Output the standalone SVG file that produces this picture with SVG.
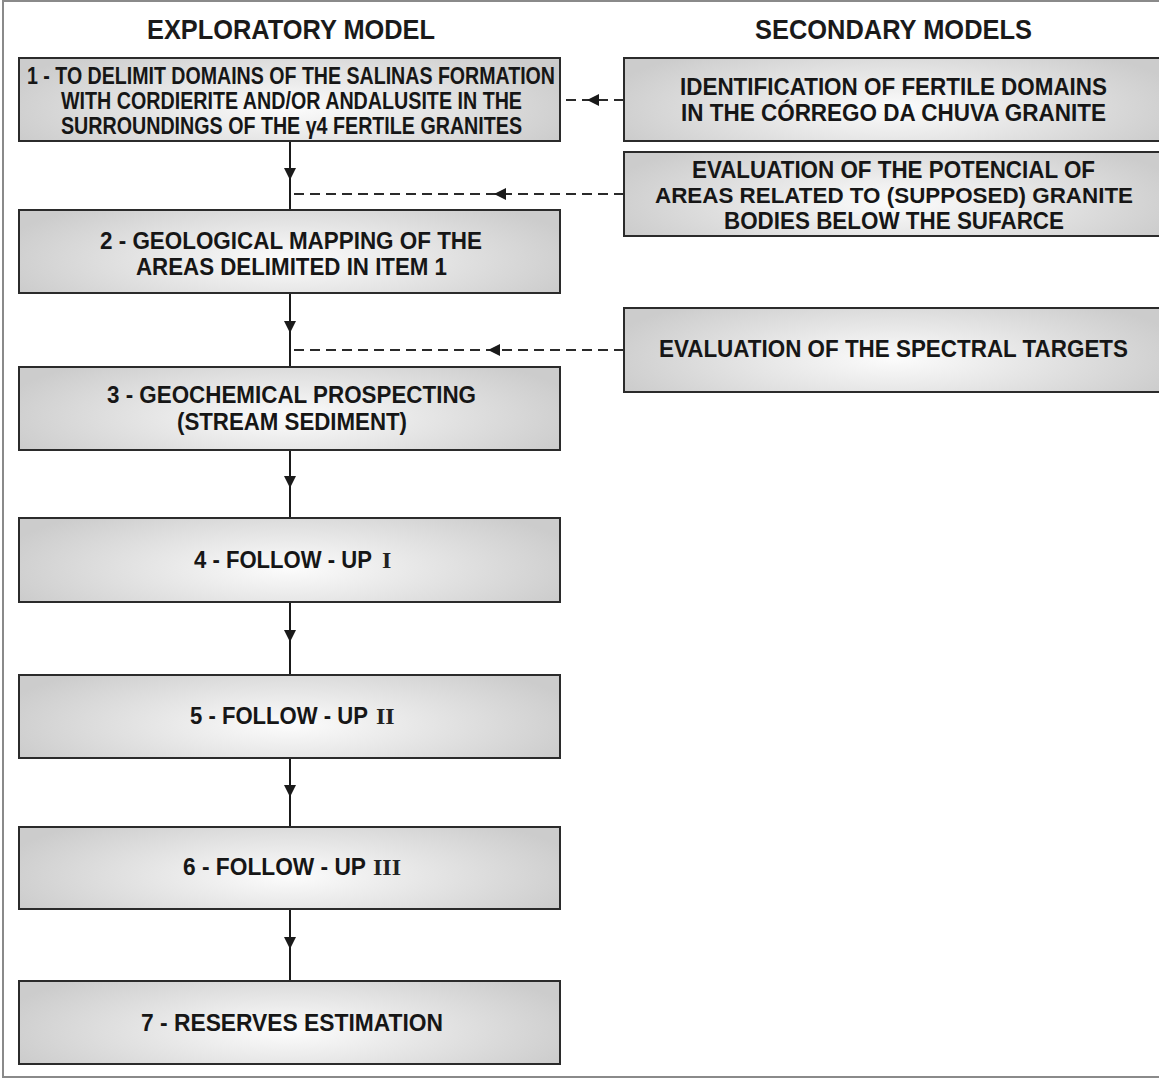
<svg xmlns="http://www.w3.org/2000/svg" width="1159" height="1080" viewBox="0 0 1159 1080">
<style>
.box{stroke:#2b2b2b;stroke-width:2}
.t{font-family:"Liberation Sans",Arial,sans-serif;font-weight:bold;font-size:24px;fill:#161616;text-anchor:middle}
.ts{font-family:"Liberation Sans",Arial,sans-serif;font-weight:bold;font-size:24px;fill:#161616}
.r{font-family:"Liberation Serif","Times New Roman",serif;font-weight:bold;font-size:24px;fill:#222222}
.h{font-family:"Liberation Sans",Arial,sans-serif;font-weight:bold;font-size:28px;fill:#1a1a1a;text-anchor:middle}
.solid{fill:none;stroke:#1a1a1a;stroke-width:2;marker-mid:url(#ah)}
.dash{fill:none;stroke:#2a2a2a;stroke-width:2;stroke-dasharray:10 6;marker-mid:url(#ah)}
</style>
<defs>
<radialGradient id="g" cx="0.5" cy="0.6" r="0.55" gradientTransform="translate(0.5 0.6) scale(1 1.6) translate(-0.5 -0.6)">
<stop offset="0" stop-color="#fcfcfc"/>
<stop offset="1" stop-color="#cccccc"/>
</radialGradient>
<marker id="ah" markerUnits="userSpaceOnUse" markerWidth="14" markerHeight="12" refX="12" refY="6" orient="auto" overflow="visible">
<path d="M0,0 L12,6 L0,12 Z" fill="#1a1a1a"/>
</marker>
</defs>
<rect x="3" y="1" width="1170" height="1076" fill="#ffffff" stroke="#8a8a8a" stroke-width="2"/>
<text class="h" x="291" y="39" textLength="288" lengthAdjust="spacingAndGlyphs">EXPLORATORY MODEL</text>
<text class="h" x="893.5" y="39" textLength="277" lengthAdjust="spacingAndGlyphs">SECONDARY MODELS</text>
<g id="connectors">
<polyline class="solid" points="290,141 290,180 290,210"/>
<polyline class="solid" points="290,293 290,333 290,367"/>
<polyline class="solid" points="290,450 290,488 290,518"/>
<polyline class="solid" points="290,602 290,642 290,675"/>
<polyline class="solid" points="290,758 290,797 290,827"/>
<polyline class="solid" points="290,909 290,949 290,981"/>
<polyline class="dash" points="624,100 587,100 561,100"/>
<polyline class="dash" points="624,194 494,194 292,194"/>
<polyline class="dash" points="624,350 488,350 292,350"/>
</g>
<g id="n1">
<rect class="box" x="19" y="58" width="541" height="83" fill="url(#g)"/>
<text class="t" x="291" y="84" textLength="528" lengthAdjust="spacingAndGlyphs">1 - TO DELIMIT DOMAINS OF THE SALINAS FORMATION</text>
<text class="t" x="291.5" y="109" textLength="461" lengthAdjust="spacingAndGlyphs">WITH CORDIERITE AND/OR ANDALUSITE IN THE</text>
<text class="t" x="291.5" y="134" textLength="461" lengthAdjust="spacingAndGlyphs">SURROUNDINGS OF THE γ4 FERTILE GRANITES</text>
</g>
<g id="n2">
<rect class="box" x="19" y="210" width="541" height="83" fill="url(#g)"/>
<text class="t" x="291" y="249" textLength="382" lengthAdjust="spacingAndGlyphs">2 - GEOLOGICAL MAPPING OF THE</text>
<text class="t" x="291.5" y="275" textLength="311" lengthAdjust="spacingAndGlyphs">AREAS DELIMITED IN ITEM 1</text>
</g>
<g id="n3">
<rect class="box" x="19" y="367" width="541" height="83" fill="url(#g)"/>
<text class="t" x="291.5" y="403" textLength="369" lengthAdjust="spacingAndGlyphs">3 - GEOCHEMICAL PROSPECTING</text>
<text class="t" x="292" y="430" textLength="230" lengthAdjust="spacingAndGlyphs">(STREAM SEDIMENT)</text>
</g>
<g id="n4">
<rect class="box" x="19" y="518" width="541" height="84" fill="url(#g)"/>
<text class="ts" transform="translate(194 568) scale(0.86 1)" textLength="207" lengthAdjust="spacingAndGlyphs">4 - FOLLOW - UP</text>
<text class="r" x="382" y="568">I</text>
</g>
<g id="n5">
<rect class="box" x="19" y="675" width="541" height="83" fill="url(#g)"/>
<text class="ts" transform="translate(190 724) scale(0.86 1)" textLength="207" lengthAdjust="spacingAndGlyphs">5 - FOLLOW - UP</text>
<text class="r" x="376" y="724">II</text>
</g>
<g id="n6">
<rect class="box" x="19" y="827" width="541" height="82" fill="url(#g)"/>
<text class="ts" transform="translate(183 875) scale(0.88 1)" textLength="208" lengthAdjust="spacingAndGlyphs">6 - FOLLOW - UP</text>
<text class="r" x="373" y="875">III</text>
</g>
<g id="n7">
<rect class="box" x="19" y="981" width="541" height="83" fill="url(#g)"/>
<text class="t" x="292" y="1031" textLength="302" lengthAdjust="spacingAndGlyphs">7 - RESERVES  ESTIMATION</text>
</g>
<g id="sA">
<rect class="box" x="624" y="58" width="540" height="83" fill="url(#g)"/>
<text class="t" x="893.5" y="95" textLength="427" lengthAdjust="spacingAndGlyphs">IDENTIFICATION OF FERTILE DOMAINS</text>
<text class="t" x="893.5" y="121" textLength="425" lengthAdjust="spacingAndGlyphs">IN THE CÓRREGO DA CHUVA GRANITE</text>
</g>
<g id="sB">
<rect class="box" x="624" y="152" width="540" height="84" fill="url(#g)"/>
<text class="t" x="893.5" y="178" textLength="403" lengthAdjust="spacingAndGlyphs">EVALUATION OF THE POTENCIAL OF</text>
<text class="t" x="894" y="203" style="font-size:22px" textLength="478" lengthAdjust="spacingAndGlyphs">AREAS RELATED TO (SUPPOSED) GRANITE</text>
<text class="t" x="894" y="229" textLength="340" lengthAdjust="spacingAndGlyphs">BODIES BELOW THE SUFARCE</text>
</g>
<g id="sC">
<rect class="box" x="624" y="308" width="540" height="84" fill="url(#g)"/>
<text class="t" x="893.5" y="357" textLength="469" lengthAdjust="spacingAndGlyphs">EVALUATION OF THE SPECTRAL TARGETS</text>
</g>
</svg>
